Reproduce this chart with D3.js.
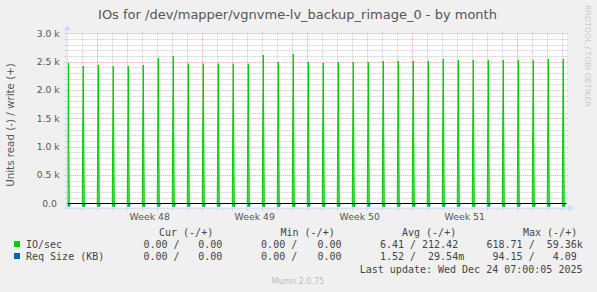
<!DOCTYPE html>
<html>
<head>
<meta charset="utf-8">
<script src="https://cdn.jsdelivr.net/npm/d3@7"></script>
<style>
  html, body { margin: 0; padding: 0; background: #f0f0f0; }
  svg { display: block; }
  text { white-space: pre; }
</style>
</head>
<body>
<script>
// ---------------- data ----------------
const days = [
  "2025-11-22","2025-11-23","2025-11-24","2025-11-25","2025-11-26","2025-11-27","2025-11-28",
  "2025-11-29","2025-11-30","2025-12-01","2025-12-02","2025-12-03","2025-12-04","2025-12-05",
  "2025-12-06","2025-12-07","2025-12-08","2025-12-09","2025-12-10","2025-12-11","2025-12-12",
  "2025-12-13","2025-12-14","2025-12-15","2025-12-16","2025-12-17","2025-12-18","2025-12-19",
  "2025-12-20","2025-12-21","2025-12-22","2025-12-23","2025-12-24","2025-12-25"
];
const spikeHour = 2.5; // hours after midnight at which the daily burst happens
const writeValues = [
  2481,2423,2441,2423,2423,2441,2564,2599,2464,2464,2464,2464,2464,2617,2494,2635,2494,
  2476,2494,2494,2494,2511,2511,2511,2511,2546,2529,2529,2529,2529,2529,2529,2546,2546
];
const readValues = [
  600,580,590,580,585,590,610,615,595,590,595,590,600,618,600,615,600,
  595,600,600,600,605,605,605,605,610,608,608,608,608,608,608,610,610
];
const reqReadValues = [
  90,88,89,88,88,89,92,93,90,90,90,90,90,94,91,94,91,
  90,91,91,91,92,92,92,92,93,92,92,92,92,92,92,93,93
];
const yTicks = [0, 500, 1000, 1500, 2000, 2500, 3000];
const yTickLabels = ["0.0 ", "0.5 k", "1.0 k", "1.5 k", "2.0 k", "2.5 k", "3.0 k"];
const weekStarts = ["2025-11-24","2025-12-01","2025-12-08","2025-12-15","2025-12-22"];
const weekLabels = ["Week 48","Week 49","Week 50","Week 51"];
const legendHeaders = ["Cur (-/+)", "Min (-/+)", "Avg (-/+)", "Max (-/+)"];
const seriesNames = ["IO/sec", "Req Size (KB)"];
const seriesColors = ["#00cc00", "#0066b3"];
const legendCur = [["0.00 /", "0.00"], ["0.00 /", "0.00"]];
const legendMin = [["0.00 /", "0.00"], ["0.00 /", "0.00"]];
const legendAvg = ["6.41 / 212.42 ", "1.52 /  29.54m"];
const legendMax = ["618.71 /  59.36k", " 94.15 /   4.09 "];
const titleText = "IOs for /dev/mapper/vgnvme-lv_backup_rimage_0 - by month";
const yLabelText = "Units read (-) / write (+)";
const lastUpdate = "Last update: Wed Dec 24 07:00:05 2025";
const footer = "Munin 2.0.75";
const sideText = "RRDTOOL / TOBI OETIKER";

// ---------------- layout ----------------
const W = 597, H = 292;
const pLeft = 66.7, pRight = 566.7, pTop = 33.3, pBottom = 207.7;
const FONT = "#555";
const AXIS = "#cfd6f8";
const GRID = "rgba(150,150,150,0.55)";
const MGRID = "rgba(230,90,90,0.6)";

const svg = d3.select("body").append("svg").attr("width", W).attr("height", H);
svg.append("rect").attr("width", W).attr("height", H).attr("fill", "#f0f0f0");

const parse = d3.utcParse("%Y-%m-%d");
const t0 = parse(days[0]);
const t1 = new Date(t0.getTime() + (500 / 15) * 86400000);
const x = d3.scaleUtc().domain([t0, t1]).range([pLeft, pRight]);
const y = d3.scaleLinear().domain([-78, 3000]).range([pBottom, pTop]);

// canvas
svg.append("rect").attr("x", pLeft).attr("y", pTop).attr("width", pRight - pLeft).attr("height", pBottom - pTop).attr("fill", "#ffffff");

// title
svg.append("text").attr("x", 297.5).attr("y", 18.5).attr("text-anchor", "middle")
  .attr("font-family", "DejaVu Sans").attr("font-size", 13).attr("fill", FONT).text(titleText);

// side text
svg.append("text").attr("transform", "translate(585,5) rotate(90)")
  .attr("font-family", "DejaVu Sans").attr("font-size", 7.9).attr("fill", "#c8c8c8").text(sideText);

// y label
svg.append("text").attr("transform", `translate(14,125) rotate(-90)`).attr("text-anchor", "middle")
  .attr("font-family", "DejaVu Sans").attr("font-size", 10.3).attr("fill", FONT).text(yLabelText);

// grid
const g = svg.append("g");
const minorY = d3.range(0, 3001, 100).filter(v => v % 500 !== 0);
g.selectAll("line.hmin").data(minorY).enter().append("line")
  .attr("x1", pLeft - 2).attr("x2", pRight + 2).attr("y1", d => Math.round(y(d)) + 0.5).attr("y2", d => Math.round(y(d)) + 0.5)
  .attr("stroke", GRID).attr("stroke-dasharray", "1,1").attr("stroke-width", 1);
g.selectAll("line.hmaj").data(yTicks.filter(v => v > 0)).enter().append("line")
  .attr("x1", pLeft - 2).attr("x2", pRight + 2).attr("y1", d => Math.round(y(d)) + 0.5).attr("y2", d => Math.round(y(d)) + 0.5)
  .attr("stroke", MGRID).attr("stroke-dasharray", "1,1").attr("stroke-width", 1);

const dayDates = days.map(parse);
const weekDates = weekStarts.map(parse);
const weekSet = new Set(weekStarts);
g.selectAll("line.vmin").data(dayDates.filter((d, i) => !weekSet.has(days[i]) && i > 0)).enter().append("line")
  .attr("x1", d => Math.round(x(d)) + 0.5).attr("x2", d => Math.round(x(d)) + 0.5)
  .attr("y1", pTop).attr("y2", pBottom + 3)
  .attr("stroke", GRID).attr("stroke-dasharray", "1,1");
g.selectAll("line.vmaj").data(weekDates).enter().append("line")
  .attr("x1", d => Math.round(x(d)) + 0.5).attr("x2", d => Math.round(x(d)) + 0.5)
  .attr("y1", pTop).attr("y2", pBottom + 3)
  .attr("stroke", MGRID).attr("stroke-dasharray", "1,1");

// clip
svg.append("clipPath").attr("id", "plotclip").append("rect")
  .attr("x", pLeft).attr("y", pTop - 10).attr("width", pRight - pLeft + 2).attr("height", pBottom - pTop + 9);

const marks = svg.append("g").attr("clip-path", "url(#plotclip)");
const spikeX = (d) => x(new Date(d.getTime() + spikeHour * 3600000));
const y0 = y(0);

// Req size (blue), read side mostly hidden
marks.selectAll("path.req").data(dayDates).enter().append("path")
  .attr("d", (d, i) => { const cx = spikeX(d) + 1; return `M${cx - 1},${y0}L${cx},${y(-reqReadValues[i])}L${cx + 1},${y0}`; })
  .attr("fill", "none").attr("stroke", seriesColors[1]).attr("stroke-width", 1);

// IO/sec read (negative) and write (positive)
marks.selectAll("path.rd").data(dayDates).enter().append("path")
  .attr("d", (d, i) => { const cx = spikeX(d); return `M${cx - 1},${y0}L${cx},${y(-readValues[i])}L${cx + 1},${y0}`; })
  .attr("fill", "none").attr("stroke", seriesColors[0]).attr("stroke-width", 1);
marks.selectAll("path.wr").data(dayDates).enter().append("path")
  .attr("d", (d, i) => { const cx = spikeX(d); return `M${cx - 1},${y0}L${cx},${y(writeValues[i])}L${cx + 1},${y0}`; })
  .attr("fill", "#5ee05e").attr("stroke", seriesColors[0]).attr("stroke-width", 1);

// zero line
svg.append("line").attr("x1", pLeft).attr("x2", pRight).attr("y1", Math.round(y0) + 0.5).attr("y2", Math.round(y0) + 0.5)
  .attr("stroke", "#000").attr("stroke-width", 1);

// axes lines + arrows
svg.append("line").attr("x1", pLeft - 2).attr("x2", pRight + 3).attr("y1", pBottom + 0.5).attr("y2", pBottom + 0.5).attr("stroke", AXIS);
svg.append("line").attr("x1", pLeft + 0.5).attr("x2", pLeft + 0.5).attr("y1", pBottom + 2).attr("y2", pTop - 4).attr("stroke", AXIS);
svg.append("path").attr("d", `M${pRight + 2},${pBottom - 3}L${pRight + 7},${pBottom + 0.5}L${pRight + 2},${pBottom + 4}Z`).attr("fill", AXIS);
svg.append("path").attr("d", `M${pLeft - 3},${pTop - 3}L${pLeft + 0.5},${pTop - 8}L${pLeft + 4},${pTop - 3}Z`).attr("fill", AXIS);

// y axis tick labels via d3 axis
const yAxis = d3.axisLeft(y).tickValues(yTicks).tickFormat((d, i) => yTickLabels[i]).tickSize(0).tickPadding(7);
const ya = svg.append("g").attr("transform", `translate(${pLeft},0)`).call(yAxis);
ya.select(".domain").remove();
ya.selectAll("text").attr("font-family", "DejaVu Sans").attr("font-size", 9.2).attr("fill", FONT);

// x axis week labels via d3 axis
const weekCenters = weekLabels.map((w, i) => new Date((weekDates[i].getTime() + weekDates[i + 1].getTime()) / 2));
const xAxis = d3.axisBottom(x).tickValues(weekCenters).tickFormat((d, i) => weekLabels[i]).tickSize(0).tickPadding(5.5);
const xa = svg.append("g").attr("transform", `translate(0,${pBottom})`).call(xAxis);
xa.select(".domain").remove();
xa.selectAll("text").attr("font-family", "DejaVu Sans").attr("font-size", 9.3).attr("fill", FONT);

// legend
const mono = (sel) => sel.attr("font-family", "DejaVu Sans Mono").attr("font-size", 10).attr("fill", "#444").attr("xml:space", "preserve");
const hdrX = [159, 280.5, 402, 523];
legendHeaders.forEach((h, i) => mono(svg.append("text").attr("x", hdrX[i]).attr("y", 236).text(h)));
const rowY = [248, 260];
seriesNames.forEach((s, i) => {
  svg.append("rect").attr("x", 14).attr("y", rowY[i] - 7).attr("width", 6).attr("height", 6).attr("fill", seriesColors[i]);
  mono(svg.append("text").attr("x", 26).attr("y", rowY[i]).text(s));
  mono(svg.append("text").attr("x", 143.5).attr("y", rowY[i]).text(legendCur[i][0]));
  mono(svg.append("text").attr("x", 198.3).attr("y", rowY[i]).text(legendCur[i][1]));
  mono(svg.append("text").attr("x", 261.1).attr("y", rowY[i]).text(legendMin[i][0]));
  mono(svg.append("text").attr("x", 317.5).attr("y", rowY[i]).text(legendMin[i][1]));
  mono(svg.append("text").attr("x", 379.9).attr("y", rowY[i]).text(legendAvg[i]));
  mono(svg.append("text").attr("x", 486.5).attr("y", rowY[i]).text(legendMax[i]));
});
mono(svg.append("text").attr("x", 582.5).attr("y", 272.5).attr("text-anchor", "end").text(lastUpdate));

svg.append("text").attr("x", 298).attr("y", 284).attr("text-anchor", "middle")
  .attr("font-family", "DejaVu Sans").attr("font-size", 8).attr("fill", "#bbb").text(footer);
</script>
</body>
</html>
